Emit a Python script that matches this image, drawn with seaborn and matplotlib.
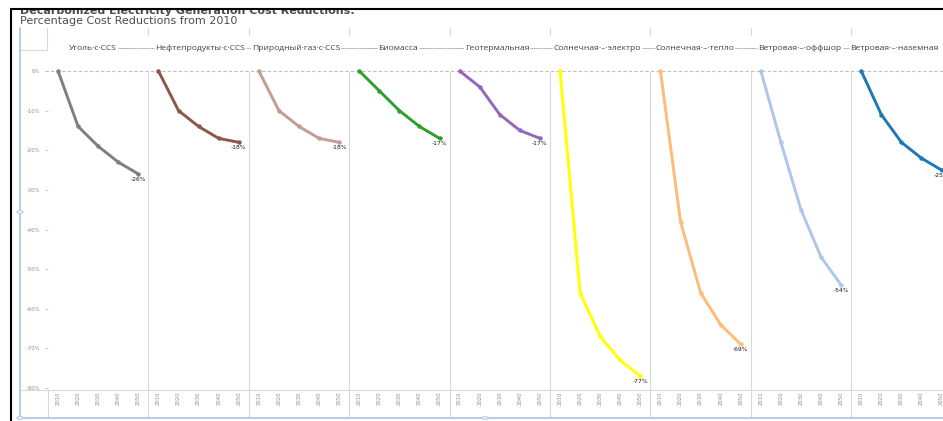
import matplotlib
matplotlib.use("Agg")
import matplotlib.pyplot as plt
from matplotlib.lines import Line2D
from matplotlib.patches import Rectangle, Circle
import seaborn as sns
import pandas as pd

# ---- data -------------------------------------------------------------
years = [2010, 2020, 2030, 2040, 2050]
technologies = [
    "Уголь с CCS",
    "Нефтепродукты с CCS",
    "Природный газ с CCS",
    "Биомасса",
    "Геотермальная",
    "Солнечная – электро",
    "Солнечная – тепло",
    "Ветровая – оффшор",
    "Ветровая – наземная",
]
coal_ccs = [0, -14, -19, -23, -26]
oil_ccs = [0, -10, -14, -17, -18]
gas_ccs = [0, -10, -14, -17, -18]
biomass = [0, -5, -10, -14, -17]
geothermal = [0, -4, -11, -15, -17]
solar_pv = [0, -56, -67, -73, -77]
solar_thermal = [0, -38, -56, -64, -69]
wind_offshore = [0, -18, -35, -47, -54]
wind_onshore = [0, -11, -18, -22, -25]
series = [coal_ccs, oil_ccs, gas_ccs, biomass, geothermal,
          solar_pv, solar_thermal, wind_offshore, wind_onshore]
colors = ["#7f7f7f", "#8c564b", "#c49c94", "#2ca02c", "#9467bd",
          "#ffff00", "#ffbb78", "#aec7e8", "#1f77b4"]
y_ticks = [0, -10, -20, -30, -40, -50, -60, -70, -80]
title_1 = "Decarbonized Electricity Generation Cost Reductions:"
title_2 = "Percentage Cost Reductions from 2010"

df = pd.DataFrame(
    [(t, y, v) for t, vals in zip(technologies, series) for y, v in zip(years, vals)],
    columns=["tech", "year", "value"],
)

# ---- figure -----------------------------------------------------------
sns.set_theme(style="white")
plt.rcParams["font.family"] = ["DejaVu Sans"]

W_PX, H_PX = 943, 421
fig = plt.figure(figsize=(W_PX / 100, H_PX / 100), dpi=100)


def fx(x):
    return x / W_PX


def fy(y):
    return 1 - y / H_PX


def hline(y, x0, x1, **kw):
    fig.add_artist(Line2D([fx(x0), fx(x1)], [fy(y), fy(y)], transform=fig.transFigure, **kw))


def vline(x, y0, y1, **kw):
    fig.add_artist(Line2D([fx(x), fx(x)], [fy(y0), fy(y1)], transform=fig.transFigure, **kw))


PANEL_L = 48
PANEL_W = 100.4
TOP, BOTTOM = 71, 388
grid_c = "#d9d9d9"
tick_c = "#8c8c8c"

axes = []
for i, (tech, col) in enumerate(zip(technologies, colors)):
    left = PANEL_L + i * PANEL_W
    ax = fig.add_axes([fx(left), fy(BOTTOM), PANEL_W / W_PX, (BOTTOM - TOP) / H_PX])
    ax.set_facecolor("none")
    sub = df[df["tech"] == tech]
    sns.lineplot(data=sub, x="year", y="value", ax=ax, color=col, linewidth=2.1,
                 marker="o", markersize=3.2, markeredgewidth=0)
    for ln in ax.lines:
        ln.set_clip_on(False)
    last = sub.iloc[-1]
    ax.annotate(f"{int(last['value'])}%", (last["year"], last["value"]),
                xytext=(0, -2.2), textcoords="offset points", ha="center", va="top",
                fontsize=4.3, color="#1a1a1a", annotation_clip=False)
    ax.set_xlim(2005, 2055)
    ax.set_ylim(-80, 0)
    ax.set_xlabel("")
    ax.set_ylabel("")
    ax.set_xticks(years)
    ax.set_xticklabels([str(y) for y in years], rotation=90, fontsize=3.8, color=tick_c)
    ax.tick_params(axis="x", length=0, pad=2.5)
    if i == 0:
        ax.set_yticks(y_ticks)
        ax.set_yticklabels([f"{v}%" for v in y_ticks], fontsize=3.8, color=tick_c)
        ax.tick_params(axis="y", left=True, length=2.5, width=0.6, color="#bfbfbf", pad=3)
    else:
        ax.set_yticks([])
    for s in ax.spines.values():
        s.set_visible(False)
    ax.grid(False)
    axes.append(ax)

# zero reference line and panel separators
hline(TOP, 45, W_PX, color="#bfbfbf", lw=0.8, linestyle=(0, (3, 2)), zorder=-1)
hline(390, 20, W_PX, color=grid_c, lw=0.8, zorder=-1)
for k in range(0, 10):
    x = PANEL_L + k * PANEL_W
    if k == 0:
        vline(x, 390, 418, color=grid_c, lw=0.8, zorder=-1)
        vline(x - 1, 28, 50, color=grid_c, lw=0.8, zorder=-1)
    else:
        vline(x, 72, 418, color=grid_c, lw=0.8, zorder=-1)
        vline(x, 28, 35, color=grid_c, lw=0.8, zorder=-1)
hline(50, 20, PANEL_L - 1, color=grid_c, lw=0.8, zorder=-1)

# panel headers joined by dotted leaders
header_x = [93, 200, 296, 398, 497, 597, 695, 800, 894]
header_texts = []
for cx, tech in zip(header_x, technologies):
    t = fig.text(fx(cx), fy(48), tech.replace(" ", "·"), ha="center", va="center",
                 fontsize=6.1, color="#404040", family=["Open Sans", "DejaVu Sans"])
    header_texts.append(t)
fig.canvas.draw()
renderer = fig.canvas.get_renderer()
boxes = [t.get_window_extent(renderer) for t in header_texts]
for b0, b1 in zip(boxes[:-1], boxes[1:]):
    if b1.x0 - b0.x1 > 1:
        hline(48, b0.x1 + 1, b1.x0 - 1, color="#808080", lw=0.6, linestyle=(0, (1.2, 0.8)))

# titles (the first line runs under the top frame edge)
fig.text(fx(20), fy(14), title_1, ha="left", va="baseline", fontsize=8, color="#4d4d4d",
         fontweight="semibold", zorder=5)
fig.text(fx(20), fy(24), title_2, ha="left", va="baseline", fontsize=8, color="#4d4d4d",
         zorder=5)
fig.add_artist(Rectangle((0, fy(9)), 1, 1 - fy(9), transform=fig.transFigure,
                         facecolor="white", edgecolor="none", zorder=10))

# outer frame and selection outline
hline(9, 11, W_PX, color="black", lw=1.5, zorder=11)
vline(11, 9, H_PX, color="black", lw=1.5, zorder=11)
sel_c = "#b4c7e7"
vline(20, 28, 418, color=sel_c, lw=1.3, zorder=3)
hline(418, 20, W_PX, color=sel_c, lw=1.3, zorder=3)
for (cx, cy) in [(20, 212), (20, 418), (485, 418)]:
    fig.add_artist(Circle((fx(cx), fy(cy)), 3 / W_PX, transform=fig.transFigure,
                          facecolor="white", edgecolor=sel_c, lw=0.8, zorder=4))

fig.savefig("out.png", dpi=100)
